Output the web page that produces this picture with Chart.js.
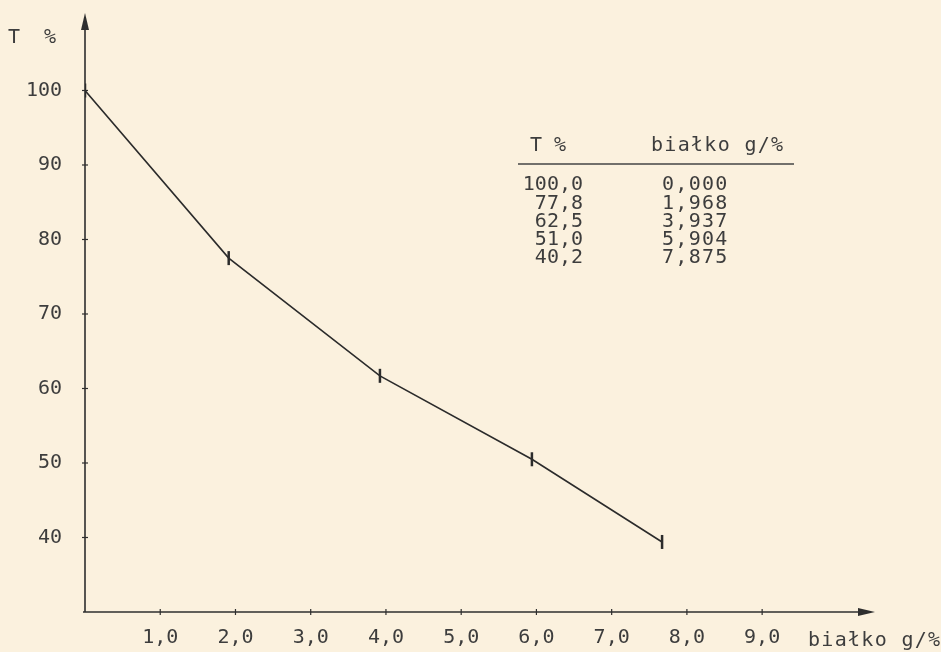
<!DOCTYPE html>
<html lang="pl">
<head>
    <meta charset="utf-8" />
    <title>T % / białko g/%</title>
    <style>
        body {
            margin: 0;
            background-color: #fbf1de;
        }
        #chartBox {
            width: 941px;
            height: 652px;
            position: relative;
        }
    </style>
</head>
<body>
    <div id="chartBox">
        <canvas id="transChart"></canvas>
    </div>
    <script src="https://cdn.jsdelivr.net/npm/chart.js"></script>
    <script>
        // points as plotted on the sheet (białko g/%, T %)
        var proteinX = [0, 1.91, 3.92, 5.94, 7.67];
        var transT = [100, 77.5, 61.7, 50.5, 39.4];

        // typed table in the corner
        var tableT = ['100,0', '77,8', '62,5', '51,0', '40,2'];
        var tableProtein = ['0,000', '1,968', '3,937', '5,904', '7,875'];

        var xTicks = [1, 2, 3, 4, 5, 6, 7, 8, 9];
        var yTicks = [40, 50, 60, 70, 80, 90, 100];

        var ink = '#3d3d3d';
        var typeFont = '"DejaVu Sans Mono", "Liberation Mono", monospace';

        function decimalComma(v) {
            return v.toFixed(1).replace('.', ',');
        }

        // axes with arrows, small crossing ticks, axis titles and the table
        var paperPlugin = {
            id: 'paper',
            afterDraw: function (chart) {
                var ctx = chart.ctx;
                var area = chart.chartArea;
                var xs = chart.scales.x;
                var ys = chart.scales.y;
                ctx.save();
                ctx.strokeStyle = '#2e2e2e';
                ctx.fillStyle = '#2e2e2e';
                ctx.lineWidth = 1.6;

                // y axis
                ctx.beginPath();
                ctx.moveTo(area.left, area.bottom);
                ctx.lineTo(area.left, area.top + 4);
                ctx.stroke();
                ctx.beginPath();
                ctx.moveTo(area.left, area.top);
                ctx.lineTo(area.left - 4, area.top + 17);
                ctx.lineTo(area.left + 4, area.top + 17);
                ctx.closePath();
                ctx.fill();

                // x axis
                ctx.beginPath();
                ctx.moveTo(area.left - 2, area.bottom);
                ctx.lineTo(area.right - 4, area.bottom);
                ctx.stroke();
                ctx.beginPath();
                ctx.moveTo(area.right, area.bottom);
                ctx.lineTo(area.right - 17, area.bottom - 4);
                ctx.lineTo(area.right - 17, area.bottom + 4);
                ctx.closePath();
                ctx.fill();

                ctx.lineWidth = 1.2;
                xTicks.forEach(function (v) {
                    var px = xs.getPixelForValue(v);
                    ctx.beginPath();
                    ctx.moveTo(px, area.bottom - 3);
                    ctx.lineTo(px, area.bottom + 3);
                    ctx.stroke();
                });
                yTicks.forEach(function (v) {
                    var py = ys.getPixelForValue(v);
                    ctx.beginPath();
                    ctx.moveTo(area.left - 3, py);
                    ctx.lineTo(area.left + 3, py);
                    ctx.stroke();
                });

                ctx.fillStyle = ink;
                ctx.font = '20px ' + typeFont;
                ctx.textBaseline = 'middle';
                ctx.textAlign = 'left';
                ctx.fillText('T  %', 8, 38);
                ctx.letterSpacing = '1.3px';
                ctx.fillText('białko g/%', 808, 641);

                // table
                ctx.letterSpacing = '0px';
                ctx.fillText('T %', 530, 146);
                ctx.letterSpacing = '1.3px';
                ctx.fillText('białko g/%', 651, 146);
                ctx.lineWidth = 1.6;
                ctx.strokeStyle = '#444';
                ctx.beginPath();
                ctx.moveTo(518, 164);
                ctx.lineTo(794, 164);
                ctx.stroke();
                for (var i = 0; i < tableT.length; i++) {
                    var rowY = 185 + i * 18.3;
                    ctx.letterSpacing = '0px';
                    ctx.textAlign = 'right';
                    ctx.fillText(tableT[i], 583, rowY);
                    ctx.letterSpacing = '1.3px';
                    ctx.textAlign = 'left';
                    ctx.fillText(tableProtein[i], 662, rowY);
                }
                ctx.restore();
            }
        };

        function noEdgePadding(scale) {
            scale.paddingTop = 0;
            scale.paddingBottom = 0;
            scale.paddingLeft = 0;
            scale.paddingRight = 0;
        }

        var ctx = document.getElementById('transChart').getContext('2d');
        var transChart = new Chart(ctx, {
            type: 'scatter',
            data: {
                datasets: [{
                    label: 'T %',
                    data: proteinX.map(function (x, i) { return { x: x, y: transT[i] }; }),
                    showLine: true,
                    borderColor: '#2b2b2b',
                    borderWidth: 1.6,
                    pointStyle: 'line',
                    rotation: 90,
                    pointRadius: 7,
                    pointBorderWidth: 2.5,
                    pointBorderColor: '#2b2b2b',
                    tension: 0
                }]
            },
            options: {
                responsive: true,
                maintainAspectRatio: false,
                animation: false,
                layout: {
                    padding: { left: 0, top: 13, right: 66, bottom: 0 }
                },
                plugins: {
                    legend: { display: false },
                    tooltip: { enabled: false }
                },
                scales: {
                    x: {
                        type: 'linear',
                        min: 0,
                        max: 10.5,
                        afterFit: function (scale) { scale.height = 40; noEdgePadding(scale); },
                        afterBuildTicks: function (scale) {
                            scale.ticks = xTicks.map(function (v) { return { value: v }; });
                        },
                        grid: { display: false, drawTicks: false },
                        border: { display: false },
                        ticks: {
                            autoSkip: false,
                            maxRotation: 0,
                            padding: 14,
                            color: ink,
                            font: { family: typeFont, size: 20 },
                            callback: function (v) { return decimalComma(v); }
                        }
                    },
                    y: {
                        type: 'linear',
                        min: 30,
                        max: 110.4,
                        afterFit: function (scale) { scale.width = 85; noEdgePadding(scale); },
                        afterBuildTicks: function (scale) {
                            scale.ticks = yTicks.map(function (v) { return { value: v }; });
                        },
                        grid: { display: false, drawTicks: false },
                        border: { display: false },
                        ticks: {
                            autoSkip: false,
                            padding: 23,
                            color: ink,
                            font: { family: typeFont, size: 20 },
                            callback: function (v) { return String(v); }
                        }
                    }
                }
            },
            plugins: [paperPlugin]
        });
    </script>
</body>
</html>
